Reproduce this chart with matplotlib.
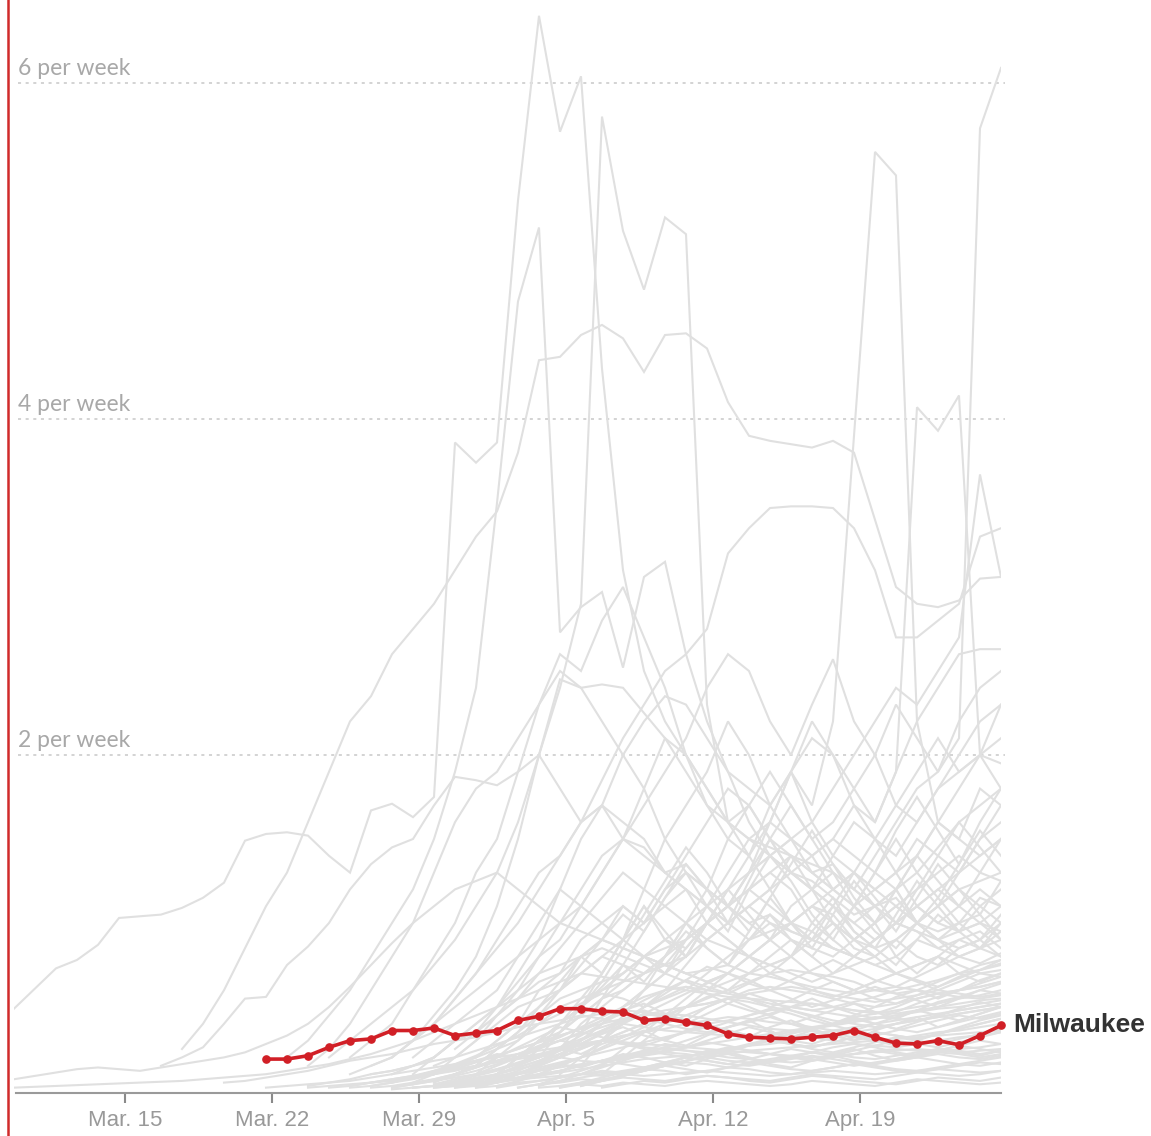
import numpy as np
import matplotlib as mpl
import matplotlib.pyplot as plt
from matplotlib.lines import Line2D

#--------------------------------------------
# data: new cases per week (per 1,000 people), day 0 = Mar. 10
tick_days = [5, 12, 19, 26, 33, 40]
tick_labels = ['Mar. 15', 'Mar. 22', 'Mar. 29', 'Apr. 5', 'Apr. 12', 'Apr. 19']
grid_values = [2, 4, 6]
grid_labels = ['2 per week', '4 per week', '6 per week']

milwaukee_start = 12
milwaukee = [0.19, 0.19, 0.21, 0.26, 0.30, 0.31, 0.36, 0.36, 0.375, 0.33, 0.345, 0.36,
             0.42, 0.445, 0.49, 0.49, 0.475, 0.47, 0.42, 0.43, 0.41, 0.39, 0.34, 0.32,
             0.315, 0.31, 0.32, 0.33, 0.36, 0.32, 0.285, 0.28, 0.30, 0.275, 0.33, 0.39]

# other counties (grey), each a start day and its values
tall_a = [0.49, 0.61, 0.73, 0.78, 0.87, 1.03, 1.04, 1.05, 1.09, 1.15, 1.24, 1.49, 1.53, 1.54, 1.52, 1.40, 1.30,
          1.67, 1.71, 1.63, 1.75, 3.86, 3.74, 3.86, 5.3, 6.4, 5.71, 6.04, 4.3, 3.1, 2.5, 2.2, 2.0,
          1.8, 1.6, 1.5, 1.4, 1.3, 1.25, 1.15, 1.05, 1.1, 1.2, 1.0, 0.9, 1.0, 1.15, 1.1]
rise_b = [0.15, 0.2, 0.26, 0.4, 0.55, 0.56, 0.75, 0.86, 1.0, 1.2, 1.35, 1.45, 1.5, 1.7, 1.87,
          1.85, 1.82, 1.9, 2.0, 1.8, 1.6, 1.7, 1.5, 1.4, 1.3, 1.35, 1.2, 1.1, 1.0, 1.05,
          0.95, 0.9, 1.0, 0.85, 0.8, 0.9, 0.8, 0.75, 0.85, 0.9, 0.8]
plateau_c = [0.25, 0.4, 0.6, 0.85, 1.1, 1.3, 1.6, 1.9, 2.2, 2.35, 2.6, 2.75, 2.9, 3.1, 3.3,
             3.45, 3.8, 4.35, 4.37, 4.5, 4.56, 4.48, 4.28, 4.5, 4.51, 4.42, 4.1, 3.9, 3.87, 3.85,
             3.83, 3.87, 3.8, 3.4, 3.0, 2.9, 2.88, 2.92, 3.05, 3.06]
peak_d = [0.2, 0.3, 0.45, 0.6, 0.8, 1.0, 1.2, 1.5, 1.9, 2.4, 3.5, 4.7, 5.14, 2.73, 2.88,
          2.97, 2.52, 3.06, 3.15, 2.6, 2.2, 1.9, 1.6, 1.4, 1.3, 1.2, 1.1, 1.0, 0.9, 1.0,
          0.95, 0.85, 0.9, 0.95, 0.85]
peak_e = [0.2, 0.3, 0.4, 0.5, 0.6, 0.75, 0.9, 1.1, 1.3, 1.6, 2.0, 2.4, 2.9, 5.8, 5.12,
          4.77, 5.2, 5.1, 2.3, 1.6, 1.4, 1.7, 1.9, 1.6, 1.4, 1.3, 1.2, 1.3, 1.1, 1.0,
          1.1, 1.2, 1.1]
hump_f = [0.4, 0.55, 0.7, 0.85, 1.0, 1.2, 1.4, 1.6, 1.85, 2.1, 2.3, 2.5, 2.6, 2.75, 3.2,
          3.35, 3.47, 3.48, 3.48, 3.47, 3.35, 3.1, 2.7, 2.7, 2.8, 2.9, 3.3, 3.35]
peak_g = [0.2, 0.3, 0.4, 0.6, 0.7, 0.9, 1.0, 1.1, 1.0, 1.2, 1.3, 1.2, 1.1, 1.3, 1.6,
          1.9, 1.7, 2.2, 3.9, 5.59, 5.45, 2.2, 1.6, 1.5, 1.8, 1.7]
late_h = [0.2, 0.3, 0.35, 0.5, 0.6, 0.7, 0.8, 0.9, 0.85, 1.0, 1.1, 1.0, 0.9, 1.1, 1.2,
          1.3, 1.2, 1.4, 1.6, 1.8, 1.9, 2.1, 5.73, 6.09]
late_i = [0.15, 0.25, 0.35, 0.45, 0.55, 0.65, 0.8, 0.9, 1.0, 1.1, 1.2, 1.3, 1.4, 1.5, 1.4,
          1.5, 1.7, 1.6, 1.9, 4.07, 3.93, 4.14, 2.0, 1.8]
late_j = [0.2, 0.3, 0.4, 0.5, 0.6, 0.7, 0.8, 1.0, 1.1, 1.3, 1.4, 1.5, 1.6, 1.8, 2.0,
          2.2, 2.4, 2.3, 2.5, 2.7, 3.67, 3.06]
mid_k = [0.2, 0.3, 0.45, 0.6, 0.8, 1.1, 1.5, 2.0, 2.45, 2.4, 2.42, 2.4, 2.25, 2.1, 1.9,
         1.7, 1.6, 1.5, 1.45, 1.4, 1.3, 1.35, 1.2, 1.1, 1.15, 1.0, 0.95, 1.0, 1.05, 0.9]
mid_l = [0.2, 0.3, 0.4, 0.5, 0.65, 0.8, 0.9, 1.1, 1.3, 1.5, 1.7, 1.9, 2.1, 2.4, 2.6,
         2.5, 2.2, 2.0, 2.3, 2.57, 2.2, 2.0, 1.7, 1.6, 1.8, 2.0, 2.2, 2.3]
mid_m = [0.25, 0.35, 0.5, 0.7, 0.9, 1.2, 1.5, 1.7, 2.0, 2.2, 2.35, 2.3, 2.1, 1.9, 1.8,
         1.7, 1.9, 2.1, 2.0, 1.8, 1.6, 1.9, 2.2, 2.4, 2.6, 2.63, 2.63]
mid_n = [0.15, 0.25, 0.4, 0.6, 0.8, 1.0, 1.3, 1.6, 1.8, 1.9, 2.1, 2.3, 2.5, 2.4, 2.2,
         2.0, 1.8, 1.5, 1.3, 1.2, 1.1, 1.3, 1.5, 1.4, 1.2, 1.0, 0.9, 1.0, 0.8, 0.7,
         0.8, 0.9, 0.85, 0.8]
mid_o = [0.2, 0.3, 0.4, 0.6, 0.8, 1.0, 1.3, 1.5, 1.9, 2.3, 2.6, 2.5, 2.8, 3.0, 2.7,
         2.4, 2.0, 1.8, 1.6, 1.7, 1.5, 1.3, 1.2, 1.1, 1.0, 1.1, 1.2, 1.0, 0.9, 0.95,
         1.0, 0.9]
mid_p = [0.2, 0.3, 0.4, 0.5, 0.6, 0.8, 1.0, 1.2, 1.1, 1.3, 1.5, 1.8, 2.1, 2.0, 1.7,
         1.5, 1.4, 1.6, 1.9, 2.2, 2.0, 1.7, 1.5, 1.4, 1.6, 1.8, 1.9, 2.0, 2.3]
mid_q = [0.15, 0.25, 0.35, 0.5, 0.6, 0.8, 0.9, 1.1, 1.0, 1.2, 1.4, 1.6, 1.8, 1.7, 1.5,
         1.3, 1.2, 1.4, 1.6, 1.5, 1.3, 1.4, 1.6, 1.8, 2.0, 1.95]
mid_r = [0.15, 0.2, 0.3, 0.4, 0.55, 0.7, 0.9, 1.1, 1.3, 1.4, 1.6, 1.7, 1.6, 1.5, 1.3,
         1.2, 1.1, 1.0, 1.1, 1.2, 1.4, 1.3, 1.2, 1.1, 1.2, 1.3, 1.5, 1.4, 1.3, 1.5, 1.6]
mid_s = [0.1, 0.2, 0.3, 0.4, 0.5, 0.7, 0.9, 1.2, 1.5, 1.7, 1.9, 2.2, 2.0, 1.7, 1.5,
         1.4, 1.2, 1.3, 1.5, 1.7, 1.9, 2.1, 1.9, 2.0, 2.1]
mid_t = [0.15, 0.25, 0.4, 0.5, 0.6, 0.7, 0.8, 1.0, 1.2, 1.5, 1.7, 1.9, 1.7, 1.5, 1.6,
         1.8, 2.0, 2.3, 2.1, 1.9, 2.2, 2.4, 2.5]
m1 = [0.1, 0.15, 0.2, 0.3, 0.4, 0.5, 0.6, 0.7, 0.8, 0.9, 1.0, 1.1, 1.0, 0.9, 1.0,
      1.1, 1.2, 1.1, 1.0, 0.9, 0.95, 1.0, 1.1, 1.05, 0.9, 0.85, 0.9, 1.0, 1.1, 1.2, 1.25, 1.3]
m2 = [0.1, 0.15, 0.2, 0.3, 0.35, 0.45, 0.55, 0.65, 0.7, 0.8, 0.9, 0.85, 0.8, 0.75, 0.9,
      1.0, 1.1, 1.2, 1.1, 1.0, 0.9, 0.85, 0.8, 0.9, 1.0, 0.95, 0.9, 0.8, 0.85, 0.9]
m3 = [0.1, 0.2, 0.3, 0.4, 0.5, 0.55, 0.6, 0.7, 0.8, 0.75, 0.7, 0.8, 0.9, 1.0, 1.1,
      1.2, 1.3, 1.2, 1.0, 0.9, 0.8, 0.9, 1.0, 1.1, 1.2, 1.3, 1.4, 1.5]
m4 = [0.1, 0.15, 0.25, 0.35, 0.45, 0.55, 0.6, 0.65, 0.7, 0.8, 0.75, 0.7, 0.65, 0.7, 0.8,
      0.9, 1.0, 0.95, 0.85, 0.8, 0.75, 0.8, 0.9, 0.85, 0.8, 0.85, 0.95]
m5 = [0.1, 0.2, 0.3, 0.35, 0.45, 0.55, 0.7, 0.85, 1.0, 1.15, 1.3, 1.2, 1.1, 1.0, 0.9,
      0.85, 0.8, 0.75, 0.8, 0.9, 1.0, 0.9, 0.8, 0.7, 0.75, 0.8, 0.7, 0.65, 0.7]
m6 = [0.1, 0.15, 0.2, 0.3, 0.4, 0.5, 0.6, 0.7, 0.8, 0.85, 0.9, 1.0, 1.1, 1.2, 1.3,
      1.4, 1.35, 1.3, 1.2, 1.1, 1.0, 1.1, 1.2, 1.1, 1.0, 0.95]
m7 = [0.1, 0.2, 0.25, 0.35, 0.45, 0.55, 0.6, 0.7, 0.75, 0.7, 0.65, 0.6, 0.7, 0.8, 0.9,
      0.85, 0.8, 0.9, 1.0, 1.1, 1.0, 0.9, 0.85, 0.9, 1.0]
m8 = [0.1, 0.12, 0.15, 0.2, 0.3, 0.4, 0.5, 0.6, 0.7, 0.75, 0.8, 0.85, 0.8, 0.75, 0.7,
      0.65, 0.6, 0.65, 0.7, 0.75, 0.8, 0.7, 0.65, 0.6, 0.65, 0.7, 0.75, 0.8, 0.75, 0.7, 0.72]
m9 = [0.1, 0.15, 0.2, 0.3, 0.4, 0.5, 0.6, 0.7, 0.9, 1.1, 1.3, 1.5, 1.6, 1.5, 1.3,
      1.2, 1.1, 1.0, 1.1, 1.2, 1.3, 1.4, 1.3, 1.25]
m10 = [0.15, 0.2, 0.3, 0.45, 0.6, 0.8, 1.0, 1.2, 1.4, 1.5, 1.45, 1.3, 1.2, 1.0, 0.9,
       0.8, 0.75, 0.7, 0.65, 0.7, 0.8, 0.75, 0.7, 0.65, 0.6, 0.65, 0.7, 0.68]
m11 = [0.1, 0.15, 0.2, 0.3, 0.4, 0.5, 0.6, 0.75, 0.9, 1.0, 1.1, 1.2, 1.3, 1.4, 1.5,
       1.4, 1.3, 1.2, 1.3, 1.45, 1.6, 1.7, 1.8]
m12 = [0.1, 0.2, 0.3, 0.4, 0.5, 0.55, 0.6, 0.7, 0.8, 0.9, 1.0, 0.95, 0.9, 0.85, 0.8,
       0.9, 1.0, 1.1, 1.0, 0.95, 1.0, 1.1]
m13 = [0.05, 0.1, 0.15, 0.2, 0.25, 0.3, 0.4, 0.5, 0.55, 0.6, 0.65, 0.7, 0.75, 0.8, 0.9,
       1.0, 1.1, 1.0, 0.9, 0.8, 0.7, 0.75, 0.8, 0.9, 1.0, 1.1, 1.2, 1.1, 1.0]
m14 = [0.1, 0.2, 0.3, 0.4, 0.5, 0.6, 0.7, 0.8, 0.9, 1.0, 1.1, 1.0, 0.9, 1.0, 1.2,
       1.4, 1.6, 1.5, 1.4, 1.5]
m15 = [0.1, 0.15, 0.25, 0.35, 0.45, 0.55, 0.65, 0.7, 0.8, 0.9, 1.0, 1.1, 1.2, 1.3, 1.2,
       1.1, 1.0, 1.1, 1.3, 1.5, 1.7]
y1 = [0.1, 0.2, 0.3, 0.45, 0.6, 0.75, 0.9, 1.05, 0.95, 1.15, 1.3, 1.1, 0.95, 1.2, 1.4,
      1.25, 1.05, 0.9, 1.1, 1.3, 1.5, 1.3, 1.15, 1.35, 1.55, 1.4]
y2 = [0.15, 0.25, 0.4, 0.55, 0.7, 0.9, 1.1, 0.9, 0.8, 1.0, 1.2, 1.4, 1.2, 1.0, 0.9,
      1.1, 1.3, 1.15, 1.0, 1.2, 1.4, 1.6, 1.45, 1.3]
y3 = [0.1, 0.15, 0.25, 0.35, 0.5, 0.65, 0.8, 0.7, 0.9, 1.1, 0.95, 0.8, 1.0, 1.2, 1.05,
      0.9, 0.8, 1.0, 1.15, 0.95, 0.85, 1.05, 1.25, 1.1, 0.95, 1.1, 1.2]
y4 = [0.2, 0.35, 0.5, 0.65, 0.85, 1.05, 1.25, 1.45, 1.3, 1.1, 0.95, 1.15, 1.35, 1.55, 1.35,
      1.15, 1.0, 1.2, 1.4, 1.25, 1.1, 1.3, 1.5]
y5 = [0.1, 0.2, 0.3, 0.4, 0.5, 0.62, 0.75, 0.65, 0.8, 0.95, 0.85, 0.75, 0.9, 1.05, 0.9,
      0.8, 0.95, 1.1, 0.95, 0.85, 1.0, 1.15, 1.0, 0.9, 1.05]
y6 = [0.2, 0.35, 0.55, 0.75, 0.95, 1.15, 1.35, 1.2, 1.0, 1.25, 1.5, 1.7, 1.5, 1.3, 1.1,
      1.3, 1.55, 1.75, 1.55, 1.35, 1.6, 1.8]
y7 = [0.1, 0.15, 0.2, 0.3, 0.4, 0.5, 0.6, 0.7, 0.8, 0.9, 0.8, 0.7, 0.85, 1.0, 0.9,
      0.8, 0.7, 0.8, 0.95, 1.1, 0.95, 0.85, 0.75, 0.9, 1.05, 0.95, 0.85, 1.0]
y8 = [0.15, 0.3, 0.45, 0.6, 0.8, 1.0, 0.85, 0.75, 0.95, 1.15, 1.0, 0.85, 1.05, 1.25, 1.1,
      0.95, 1.15, 1.35, 1.2, 1.05, 1.25]
l1 = [0.05, 0.06, 0.08, 0.1, 0.12, 0.15, 0.18, 0.2, 0.22, 0.25, 0.28, 0.3, 0.32, 0.35, 0.38,
      0.4, 0.42, 0.45, 0.43, 0.4, 0.38, 0.36, 0.35, 0.34, 0.33, 0.32, 0.33, 0.35, 0.36, 0.34,
      0.32, 0.3, 0.31, 0.33, 0.35, 0.36, 0.38, 0.4]
l2 = [0.03, 0.05, 0.07, 0.1, 0.12, 0.15, 0.18, 0.2, 0.24, 0.28, 0.32, 0.36, 0.4, 0.44, 0.46,
      0.48, 0.47, 0.45, 0.42, 0.4, 0.42, 0.45, 0.48, 0.5, 0.52, 0.5, 0.48, 0.46, 0.5, 0.55,
      0.58, 0.6, 0.62, 0.65]
l3 = [0.03, 0.05, 0.06, 0.08, 0.1, 0.12, 0.15, 0.18, 0.2, 0.22, 0.25, 0.27, 0.3, 0.28, 0.26,
      0.25, 0.24, 0.23, 0.25, 0.27, 0.28, 0.3, 0.32, 0.3, 0.28, 0.27, 0.26, 0.28, 0.3, 0.32,
      0.33, 0.35]
l4 = [0.02, 0.04, 0.06, 0.08, 0.1, 0.13, 0.16, 0.2, 0.24, 0.28, 0.3, 0.33, 0.35, 0.37, 0.4,
      0.42, 0.44, 0.43, 0.41, 0.4, 0.38, 0.36, 0.35, 0.37, 0.4, 0.42, 0.44, 0.46, 0.48, 0.5]
l5 = [0.03, 0.05, 0.08, 0.1, 0.13, 0.16, 0.2, 0.25, 0.3, 0.35, 0.4, 0.45, 0.5, 0.52, 0.55,
      0.53, 0.5, 0.48, 0.45, 0.42, 0.4, 0.38, 0.4, 0.42, 0.45, 0.48, 0.5, 0.52]
l6 = [0.02, 0.03, 0.05, 0.07, 0.09, 0.11, 0.13, 0.15, 0.17, 0.19, 0.2, 0.21, 0.22, 0.2, 0.19,
      0.18, 0.17, 0.18, 0.2, 0.22, 0.24, 0.25, 0.24, 0.23, 0.25, 0.26, 0.28]
l7 = [0.02, 0.05, 0.08, 0.12, 0.16, 0.2, 0.25, 0.3, 0.35, 0.4, 0.45, 0.5, 0.55, 0.6, 0.62,
      0.6, 0.58, 0.55, 0.52, 0.5, 0.52, 0.55, 0.58, 0.6, 0.62, 0.65]
l8 = [0.02, 0.03, 0.04, 0.06, 0.08, 0.1, 0.12, 0.14, 0.16, 0.18, 0.2, 0.22, 0.24, 0.26, 0.28,
      0.3, 0.32, 0.34, 0.36, 0.38, 0.4, 0.42, 0.44, 0.43, 0.42, 0.44, 0.46, 0.48, 0.5]
l9 = [0.05, 0.1, 0.15, 0.2, 0.25, 0.3, 0.35, 0.4, 0.45, 0.5, 0.55, 0.6, 0.65, 0.7, 0.72,
      0.7, 0.68, 0.65, 0.6, 0.58, 0.6, 0.65, 0.7, 0.75, 0.78]
l10 = [0.02, 0.04, 0.06, 0.08, 0.1, 0.12, 0.14, 0.16, 0.18, 0.2, 0.22, 0.24, 0.25, 0.26, 0.27,
       0.28, 0.29, 0.3, 0.31, 0.32, 0.33, 0.34, 0.35, 0.36]
l11 = [0.02, 0.03, 0.05, 0.07, 0.1, 0.14, 0.18, 0.22, 0.26, 0.3, 0.34, 0.38, 0.42, 0.45, 0.48,
       0.5, 0.52, 0.55, 0.58, 0.6, 0.62, 0.6, 0.57, 0.55, 0.53, 0.55, 0.57, 0.6, 0.58, 0.56, 0.58]
l12 = [0.03, 0.06, 0.1, 0.14, 0.18, 0.22, 0.26, 0.3, 0.34, 0.38, 0.42, 0.46, 0.5, 0.48, 0.46,
       0.44, 0.46, 0.48, 0.5, 0.52, 0.55, 0.57, 0.6]
l13 = [0.02, 0.03, 0.04, 0.05, 0.06, 0.08, 0.1, 0.12, 0.14, 0.16, 0.18, 0.2, 0.22, 0.24, 0.26,
       0.28, 0.3, 0.29, 0.28, 0.27, 0.26, 0.25, 0.24, 0.23, 0.22, 0.21, 0.2, 0.21, 0.22, 0.23,
       0.24, 0.25, 0.24, 0.23, 0.24, 0.25]
l14 = [0.02, 0.04, 0.06, 0.09, 0.12, 0.15, 0.18, 0.21, 0.24, 0.27, 0.3, 0.32, 0.34, 0.36, 0.38,
       0.4, 0.42, 0.44, 0.46, 0.48, 0.5, 0.52]
l15 = [0.02, 0.03, 0.05, 0.07, 0.09, 0.12, 0.15, 0.18, 0.21, 0.25, 0.29, 0.33, 0.37, 0.4, 0.43,
       0.45, 0.46, 0.45, 0.43, 0.41, 0.39, 0.37, 0.36, 0.37, 0.39, 0.41, 0.43, 0.45, 0.47, 0.49,
       0.5, 0.52, 0.54]
l16 = [0.05, 0.1, 0.14, 0.18, 0.22, 0.27, 0.32, 0.38, 0.44, 0.5, 0.56, 0.6, 0.62, 0.6, 0.58,
       0.55, 0.52, 0.5, 0.48, 0.5, 0.53, 0.56, 0.6, 0.63, 0.66, 0.7, 0.72, 0.75]
z1 = [0.05, 0.08, 0.1, 0.14, 0.18, 0.22, 0.2, 0.26, 0.3, 0.28, 0.34, 0.38, 0.33, 0.3, 0.36,
      0.4, 0.35, 0.32, 0.38, 0.42, 0.37, 0.33, 0.3, 0.36, 0.4, 0.44, 0.38, 0.42, 0.46, 0.5]
z2 = [0.03, 0.06, 0.09, 0.12, 0.16, 0.2, 0.25, 0.22, 0.28, 0.32, 0.36, 0.3, 0.27, 0.33, 0.38,
      0.42, 0.36, 0.3, 0.28, 0.32, 0.35, 0.3, 0.27, 0.3, 0.34, 0.38, 0.42, 0.45]
z3 = [0.04, 0.07, 0.1, 0.14, 0.2, 0.26, 0.32, 0.38, 0.35, 0.42, 0.48, 0.52, 0.46, 0.42, 0.5,
      0.55, 0.5, 0.45, 0.4, 0.44, 0.48, 0.52, 0.47, 0.43, 0.48, 0.53, 0.56, 0.6, 0.58]
z4 = [0.02, 0.04, 0.07, 0.1, 0.13, 0.16, 0.14, 0.18, 0.22, 0.2, 0.17, 0.15, 0.19, 0.23, 0.2,
      0.16, 0.14, 0.18, 0.22, 0.25, 0.21, 0.18, 0.2, 0.24, 0.27, 0.3, 0.28]
z5 = [0.03, 0.05, 0.08, 0.12, 0.16, 0.21, 0.27, 0.33, 0.4, 0.46, 0.52, 0.58, 0.55, 0.5, 0.56,
      0.62, 0.58, 0.52, 0.48, 0.45, 0.5, 0.55, 0.5, 0.46, 0.43, 0.47, 0.52, 0.56, 0.6, 0.64, 0.68]
z6 = [0.05, 0.1, 0.14, 0.18, 0.24, 0.3, 0.36, 0.42, 0.48, 0.44, 0.4, 0.46, 0.52, 0.58, 0.54,
      0.48, 0.44, 0.4, 0.45, 0.5, 0.56, 0.6, 0.55, 0.6, 0.66, 0.7]
z7 = [0.02, 0.04, 0.06, 0.08, 0.1, 0.12, 0.11, 0.13, 0.15, 0.17, 0.16, 0.14, 0.16, 0.18, 0.2,
      0.19, 0.17, 0.15, 0.17, 0.19, 0.21, 0.23, 0.22, 0.2, 0.22]
z8 = [0.02, 0.03, 0.05, 0.07, 0.1, 0.13, 0.17, 0.21, 0.25, 0.29, 0.33, 0.37, 0.42, 0.46, 0.43,
      0.4, 0.37, 0.35, 0.38, 0.41, 0.44, 0.4, 0.36, 0.33, 0.3, 0.33, 0.36, 0.39, 0.42, 0.45,
      0.43, 0.46]
z9 = [0.06, 0.1, 0.15, 0.2, 0.26, 0.32, 0.38, 0.44, 0.5, 0.56, 0.6, 0.55, 0.5, 0.54, 0.6,
      0.65, 0.6, 0.55, 0.52, 0.57, 0.62, 0.68, 0.72, 0.76]
z10 = [0.02, 0.03, 0.04, 0.06, 0.08, 0.1, 0.12, 0.15, 0.18, 0.2, 0.23, 0.26, 0.24, 0.22, 0.25,
       0.28, 0.31, 0.28, 0.25, 0.23, 0.26, 0.29, 0.32, 0.3, 0.28, 0.31, 0.34, 0.37]
z11 = [0.04, 0.08, 0.12, 0.16, 0.2, 0.24, 0.28, 0.26, 0.3, 0.34, 0.38, 0.35, 0.32, 0.36, 0.4,
       0.44, 0.4, 0.37, 0.41, 0.45, 0.49, 0.53, 0.5]
z12 = [0.03, 0.06, 0.1, 0.15, 0.2, 0.26, 0.33, 0.4, 0.47, 0.54, 0.6, 0.66, 0.62, 0.58, 0.64,
       0.7, 0.65, 0.6, 0.56, 0.6, 0.65, 0.7, 0.66, 0.62, 0.67, 0.72, 0.78]
z13 = [0.02, 0.05, 0.08, 0.11, 0.14, 0.17, 0.2, 0.18, 0.16, 0.19, 0.22, 0.25, 0.23, 0.21, 0.24,
       0.27, 0.3, 0.28, 0.26, 0.29, 0.32, 0.35]
z14 = [0.02, 0.04, 0.06, 0.09, 0.12, 0.16, 0.2, 0.25, 0.3, 0.35, 0.32, 0.29, 0.27, 0.31, 0.35,
       0.39, 0.36, 0.33, 0.3, 0.28, 0.26, 0.29, 0.32, 0.35, 0.33, 0.31, 0.34, 0.37, 0.4, 0.43]
z15 = [0.04, 0.08, 0.12, 0.17, 0.22, 0.28, 0.34, 0.4, 0.46, 0.52, 0.58, 0.64, 0.7, 0.66, 0.6,
       0.55, 0.5, 0.54, 0.58, 0.62, 0.58, 0.54, 0.5, 0.55, 0.6, 0.64]
z16 = [0.02, 0.03, 0.05, 0.07, 0.09, 0.11, 0.14, 0.17, 0.2, 0.23, 0.26, 0.29, 0.32, 0.35, 0.38,
       0.36, 0.33, 0.31, 0.34, 0.37, 0.4, 0.43, 0.4, 0.37, 0.35, 0.38, 0.41, 0.44, 0.47]
z17 = [0.02, 0.03, 0.04, 0.05, 0.07, 0.09, 0.11, 0.13, 0.15, 0.17, 0.19, 0.21, 0.2, 0.18, 0.17,
       0.19, 0.21, 0.23, 0.22, 0.2, 0.18, 0.17, 0.19, 0.21, 0.23, 0.22, 0.2, 0.19, 0.21, 0.23,
       0.25, 0.24, 0.22, 0.24]
z18 = [0.05, 0.1, 0.16, 0.22, 0.28, 0.35, 0.42, 0.5, 0.58, 0.66, 0.74, 0.7, 0.64, 0.6, 0.66,
       0.72, 0.78, 0.72, 0.66, 0.62, 0.68, 0.74, 0.8, 0.76, 0.82]
z19 = [0.03, 0.06, 0.09, 0.12, 0.15, 0.18, 0.21, 0.24, 0.27, 0.3, 0.28, 0.26, 0.29, 0.32, 0.35,
       0.33, 0.31, 0.34, 0.37, 0.4, 0.43]
z20 = [0.04, 0.07, 0.1, 0.13, 0.17, 0.21, 0.26, 0.31, 0.36, 0.41, 0.46, 0.44, 0.4, 0.37, 0.41,
       0.45, 0.49, 0.46, 0.42, 0.39, 0.36, 0.4, 0.44, 0.48, 0.45, 0.42, 0.46, 0.5]
v1 = [0.02, 0.03, 0.05, 0.06, 0.08, 0.1, 0.09, 0.11, 0.13, 0.12, 0.1, 0.12, 0.14, 0.13, 0.11,
      0.1, 0.12, 0.14, 0.16, 0.15, 0.13, 0.12, 0.14, 0.16, 0.15, 0.17]
v2 = [0.02, 0.04, 0.05, 0.07, 0.06, 0.08, 0.07, 0.06, 0.08, 0.09, 0.08, 0.07, 0.06, 0.08, 0.1,
      0.09, 0.08, 0.07, 0.09, 0.11, 0.1, 0.09, 0.1, 0.12]
v3 = [0.02, 0.03, 0.04, 0.06, 0.08, 0.1, 0.12, 0.15, 0.18, 0.16, 0.14, 0.17, 0.2, 0.18, 0.16,
      0.15, 0.17, 0.19, 0.21, 0.19, 0.17, 0.16, 0.18, 0.2, 0.22, 0.2, 0.19, 0.21]
v4 = [0.03, 0.05, 0.07, 0.09, 0.12, 0.15, 0.13, 0.11, 0.14, 0.17, 0.15, 0.13, 0.12, 0.14, 0.16,
      0.14, 0.12, 0.11, 0.13, 0.15, 0.17, 0.16]
v5 = [0.01, 0.02, 0.03, 0.04, 0.05, 0.06, 0.07, 0.08, 0.09, 0.1, 0.11, 0.1, 0.09, 0.1, 0.11,
      0.12, 0.11, 0.1, 0.09, 0.1, 0.11, 0.12, 0.11, 0.1, 0.11, 0.12, 0.13, 0.12, 0.11, 0.12]
v6 = [0.02, 0.04, 0.06, 0.05, 0.07, 0.09, 0.08, 0.06, 0.05, 0.07, 0.09, 0.08, 0.06, 0.05, 0.04,
      0.06, 0.08, 0.07, 0.06, 0.08]
v7 = [0.03, 0.06, 0.09, 0.12, 0.15, 0.18, 0.21, 0.24, 0.22, 0.2, 0.23, 0.26, 0.24, 0.22, 0.2,
      0.18, 0.2, 0.22, 0.24, 0.22, 0.2, 0.18, 0.16, 0.18, 0.2]
v8 = [0.02, 0.03, 0.04, 0.03, 0.05, 0.04, 0.03, 0.05, 0.06, 0.05, 0.04, 0.03, 0.04, 0.06, 0.05,
      0.04, 0.03, 0.05, 0.07, 0.06, 0.05, 0.04, 0.05]
v9 = [0.04, 0.07, 0.1, 0.14, 0.18, 0.22, 0.26, 0.3, 0.28, 0.25, 0.23, 0.26, 0.29, 0.27, 0.24,
      0.22, 0.2, 0.23, 0.26, 0.28, 0.26, 0.23, 0.21, 0.24, 0.27, 0.25, 0.23]
v10 = [0.03, 0.06, 0.1, 0.13, 0.16, 0.2, 0.24, 0.22, 0.19, 0.17, 0.2, 0.23, 0.21, 0.18, 0.16,
       0.19, 0.22, 0.25, 0.23, 0.21, 0.24]
early_1 = [0.07, 0.09, 0.11, 0.13, 0.14, 0.13, 0.12, 0.14, 0.16, 0.18, 0.2, 0.23, 0.28, 0.33, 0.4,
           0.5, 0.62, 0.75, 0.88, 1.0, 1.1, 1.2, 1.25, 1.3, 1.2, 1.1, 1.0, 0.95, 0.9, 0.85,
           0.8, 0.75, 0.7, 0.72, 0.75, 0.7, 0.68, 0.65, 0.62, 0.6, 0.58, 0.6, 0.62, 0.6, 0.58,
           0.56, 0.55, 0.57]
early_2 = [0.02, 0.025, 0.03, 0.035, 0.04, 0.045, 0.05, 0.055, 0.06, 0.07, 0.08, 0.09, 0.1, 0.12, 0.14,
           0.16, 0.19, 0.22, 0.26, 0.3, 0.35, 0.4, 0.45, 0.5, 0.55, 0.6, 0.65, 0.7, 0.68, 0.66,
           0.64, 0.62, 0.6, 0.58, 0.56, 0.55, 0.54, 0.53, 0.52, 0.5, 0.48, 0.47, 0.46, 0.48, 0.5,
           0.52, 0.54, 0.55]

gray_lines = [(0, tall_a), (7, rise_b), (8, plateau_c), (13, peak_d), (15, peak_e), (20, hump_f),
              (22, peak_g), (24, late_h), (24, late_i), (26, late_j), (18, mid_k), (20, mid_l),
              (21, mid_m), (14, mid_n), (16, mid_o), (19, mid_p), (22, mid_q), (17, mid_r),
              (23, mid_s), (25, mid_t), (16, m1), (18, m2), (20, m3), (21, m4), (19, m5),
              (22, m6), (23, m7), (17, m8), (24, m9), (20, m10), (25, m11), (26, m12), (19, m13),
              (28, m14), (27, m15), (22, y1), (24, y2), (21, y3), (25, y4), (23, y5), (26, y6),
              (20, y7), (27, y8), (10, l1), (14, l2), (16, l3), (18, l4), (20, l5), (21, l6),
              (22, l7), (19, l8), (23, l9), (24, l10), (17, l11), (25, l12), (12, l13), (26, l14),
              (15, l15), (20, l16), (18, z1), (20, z2), (19, z3), (21, z4), (17, z5), (22, z6),
              (23, z7), (16, z8), (24, z9), (20, z10), (25, z11), (21, z12), (26, z13), (18, z14),
              (22, z15), (19, z16), (14, z17), (23, z18), (27, z19), (20, z20),
              (22, v1), (24, v2), (20, v3), (26, v4), (18, v5), (28, v6), (23, v7), (25, v8),
              (21, v9), (27, v10), (0, early_1), (0, early_2)]
#--------------------------------------------

W, H = 1151, 1136
fig = plt.figure(figsize=(W / 100, H / 100), dpi=100)
ax = fig.add_axes([14 / W, (H - 1093) / H, 987 / W, 1093 / H])

ax.set_xlim(0, 47)
ax.set_ylim(-2 / 168, 1091 / 168)

for gv, gl in zip(grid_values, grid_labels):
    ax.hlines(gv, 0.19, 47.2, colors='#c8c8c8', linewidth=1.1,
              linestyles=(0, (2, 3)), clip_on=False, zorder=1)
    ax.text(0.19, gv + 8 / 168, gl, ha='left', va='baseline', fontsize=16.5,
            color='#a8a8a8', family=['Lato', 'DejaVu Sans'], zorder=1)

for start, vals in gray_lines:
    days = np.arange(start, start + len(vals))
    ax.plot(days, vals, color='#e0e0e0', linewidth=1.5, solid_joinstyle='miter', zorder=2)

mdays = np.arange(milwaukee_start, milwaukee_start + len(milwaukee))
ax.plot(mdays, milwaukee, color='#d11f26', linewidth=2.6, marker='o', markersize=5.2,
        zorder=5, clip_on=False)
ax.text(47.57, milwaukee[-1], 'Milwaukee', ha='left', va='center', fontsize=19,
        fontweight='bold', color='#333333', family=['Liberation Sans', 'DejaVu Sans'])

for side in ['left', 'right', 'top']:
    ax.spines[side].set_visible(False)
ax.spines['bottom'].set_color('#9a9a9a')
ax.spines['bottom'].set_linewidth(1.5)
ax.spines['bottom'].set_bounds(0.1, 47)
ax.set_yticks([])
ax.set_xticks([d + 0.3 for d in tick_days])
ax.set_xticklabels(tick_labels, fontsize=16, color='#999999',
                   family=['Liberation Sans Narrow', 'Liberation Sans', 'DejaVu Sans'])
ax.tick_params(axis='x', length=7, width=1.5, color='#8a8a8a', pad=5)

fig.add_artist(Line2D([8 / W, 8 / W], [0, 1], color='#d02a2a', linewidth=1.8))

fig.savefig('out.png', dpi=100)
